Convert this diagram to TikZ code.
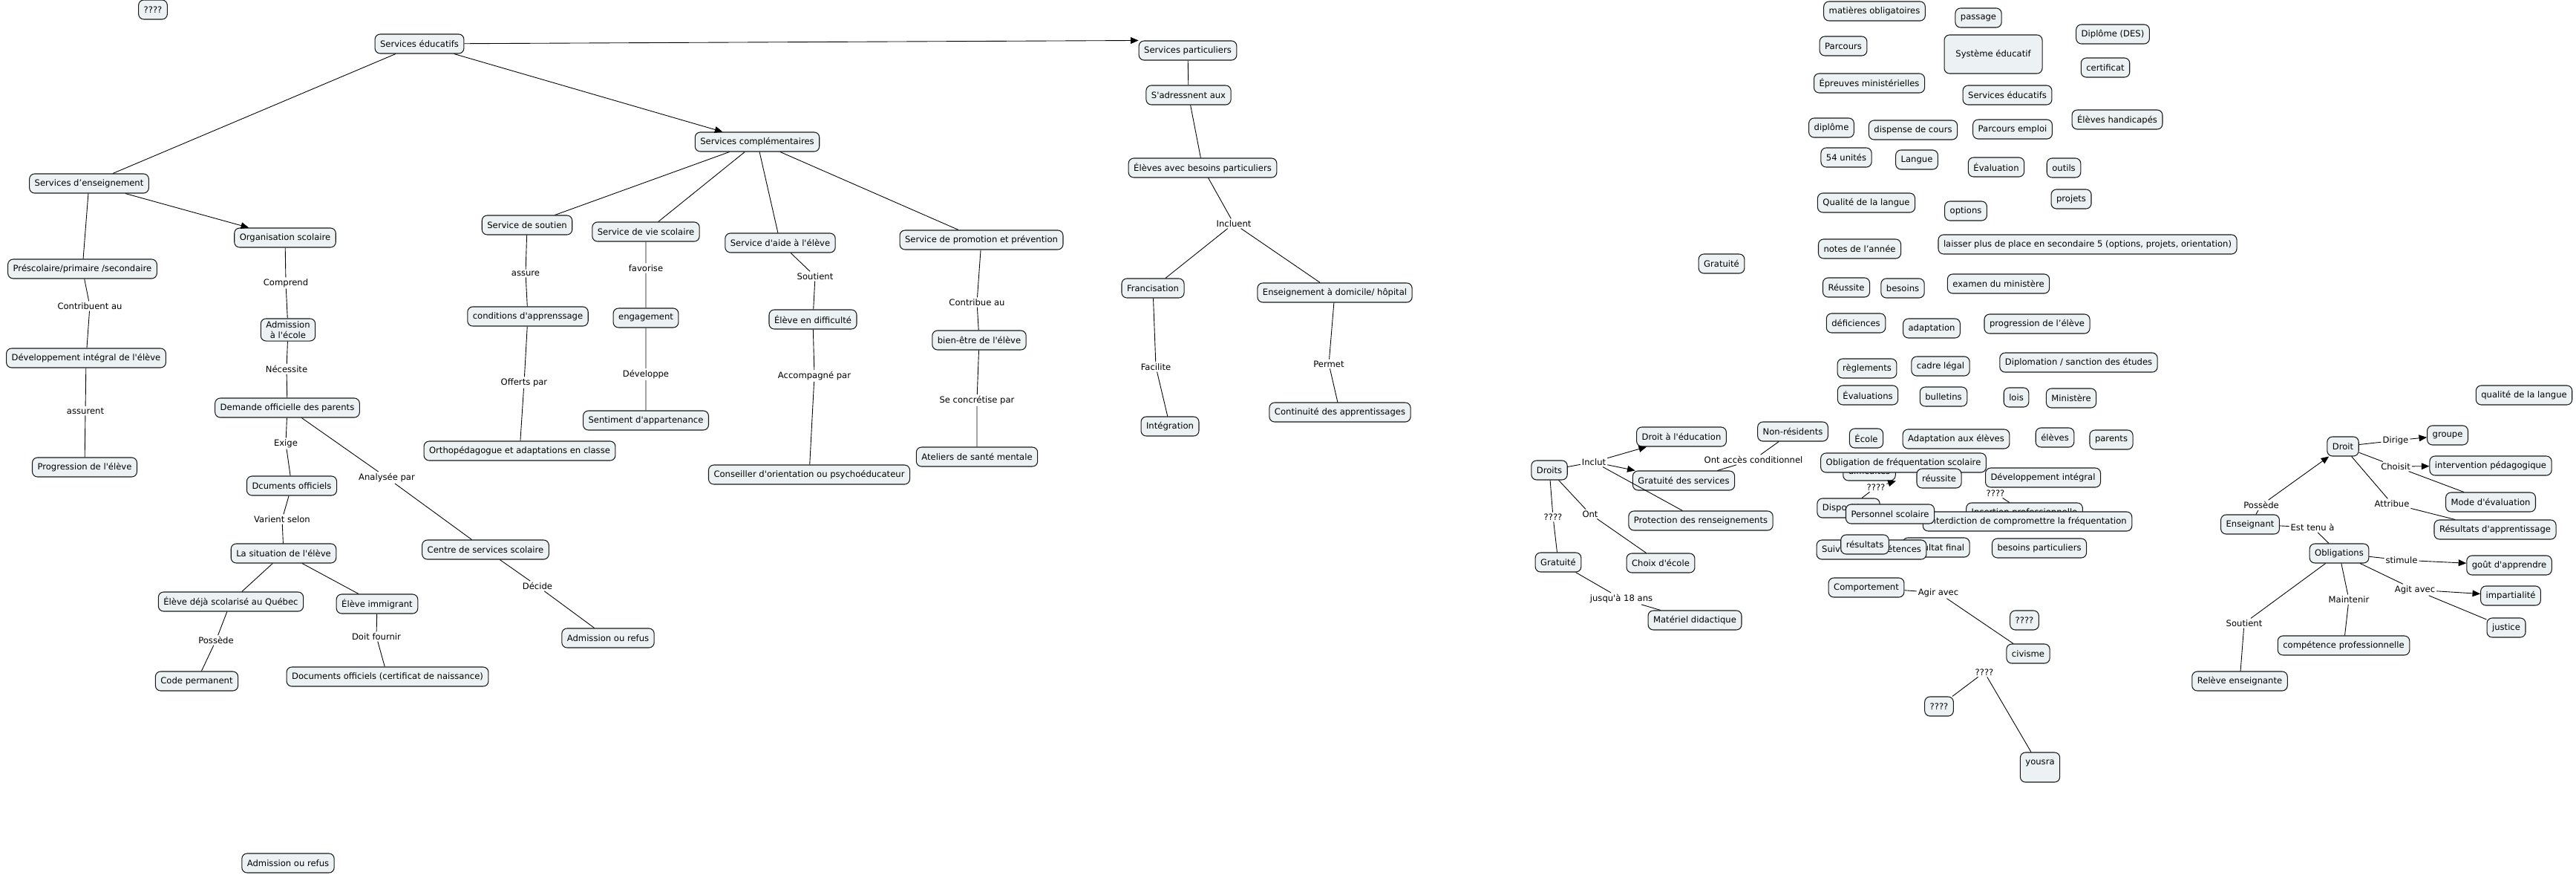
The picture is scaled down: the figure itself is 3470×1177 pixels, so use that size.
\documentclass[tikz,border=0pt]{standalone}
\usepackage{fontspec}
\newfontfamily\carte{DejaVu Sans}
\usepackage{xcolor}
\usetikzlibrary{arrows.meta}
\definecolor{boxfill}{RGB}{236,242,244}

\begin{document}
\begin{tikzpicture}[x=0.02cm,y=-0.02cm,
    concept/.style={draw=black!90,line width=0.6pt,rounded corners=4pt,fill=boxfill,
      inner xsep=4pt,inner ysep=2pt,minimum height=0.52cm,font=\carte\fontsize{6.6}{8}\selectfont},
    lien/.style={inner sep=1pt,font=\carte\fontsize{6.6}{8}\selectfont},
    fl/.style={-{Triangle[length=6pt,width=5pt]}},
    lk/.style={line width=0.5pt}]
    \useasboundingbox (0,0) rectangle (3470,1177);

    \node[concept] (q1) at (206,13) {????};
    \node[concept] (seduc) at (565,59) {Services éducatifs};
    \node[concept] (senseig) at (120,247) {Services d’enseignement};
    \node[concept] (orgsco) at (384,320) {Organisation scolaire};
    \node[concept] (prescol) at (111,362) {Préscolaire/primaire /secondaire};
    \node[lien] (comprend) at (385,381) {Comprend};
    \node[lien] (contrib) at (121,412) {Contribuent au};
    \node[concept,align=center] (admis) at (388,444) {Admission\\à l'école};
    \node[concept] (devint) at (116,482) {Développement intégral de l'élève};
    \node[lien] (necess) at (386,497) {Nécessite};
    \node[lien] (assurent) at (115,553) {assurent};
    \node[concept] (demande) at (387,549) {Demande officielle des parents};
    \node[lien] (exige) at (385,597) {Exige};
    \node[concept] (progr) at (114,629) {Progression de l'élève};
    \node[concept] (dcum) at (393,654) {Dcuments officiels};
    \node[lien] (analysee) at (521,643) {Analysée par};
    \node[lien] (varient) at (380,699) {Varient selon};
    \node[concept] (situation) at (382,745) {La situation de l'élève};
    \node[concept] (centre) at (654,740) {Centre de services scolaire};
    \node[lien] (decide) at (724,789) {Décide};
    \node[concept] (dejasco) at (311,810) {Élève déjà scolarisé au Québec};
    \node[concept] (immigr) at (508,813) {Élève immigrant};
    \node[concept] (admref) at (819,859) {Admission ou refus};
    \node[lien] (possede) at (291,862) {Possède};
    \node[lien] (doitf) at (507,857) {Doit fournir};
    \node[concept] (codeperm) at (265,917) {Code permanent};
    \node[concept] (docoff) at (522,911) {Documents officiels (certificat de naissance)};
    \node[concept] (admrefb) at (388,1162) {Admission ou refus};

    \node[concept] (scompl) at (1020,191) {Services complémentaires};
    \node[concept] (ssout) at (710,303) {Service de soutien};
    \node[concept] (svie) at (870,312) {Service de vie scolaire};
    \node[concept] (saide) at (1051,327) {Service d'aide à l'élève};
    \node[concept] (sprom) at (1322,323) {Service de promotion et prévention};
    \node[lien] (assure) at (708,368) {assure};
    \node[lien] (favorise) at (870,361) {favorise};
    \node[lien] (soutient) at (1098,372) {Soutient};
    \node[lien] (contribue) at (1316,407) {Contribue au};
    \node[concept] (condit) at (711,426) {conditions d'apprenssage};
    \node[concept] (engag) at (870,428) {engagement};
    \node[concept] (elevdiff) at (1095,430) {Élève en difficulté};
    \node[concept] (bienetre) at (1319,458) {bien-être de l'élève};
    \node[lien] (developpe) at (870,504) {Développe};
    \node[lien] (accomp) at (1097,506) {Accompagné par};
    \node[lien] (offerts) at (706,515) {Offerts par};
    \node[lien] (concret) at (1316,539) {Se concrétise par};
    \node[concept] (sentim) at (870,566) {Sentiment d'appartenance};
    \node[concept] (ortho) at (700,607) {Orthopédagogue et adaptations en classe};
    \node[concept] (ateliers) at (1316,615) {Ateliers de santé mentale};
    \node[concept] (conseil) at (1090,639) {Conseiller d'orientation ou psychoéducateur};

    \node[concept] (spart) at (1600,68) {Services particuliers};
    \node[concept] (sadress) at (1601,128) {S'adressnent aux};
    \node[concept] (elevbes) at (1620,226) {Élèves avec besoins particuliers};
    \node[lien] (incluent) at (1662,301) {Incluent};
    \node[concept] (francis) at (1553,388) {Francisation};
    \node[concept] (enseigdom) at (1798,394) {Enseignement à domicile/ hôpital};
    \node[lien] (permet) at (1790,490) {Permet};
    \node[lien] (facilite) at (1557,494) {Facilite};
    \node[concept] (contin) at (1805,555) {Continuité des apprentissages};
    \node[concept] (integr) at (1576,574) {Intégration};

    \node[concept] (gratuite2) at (2319,355) {Gratuité};
    \node[concept] (droits) at (2087,633) {Droits};
    \node[lien] (inclut) at (2147,622) {Inclut};
    \node[concept] (droitedu) at (2265,588) {Droit à l'éducation};
    \node[concept] (nonres) at (2415,581) {Non-résidents};
    \node[lien] (accescond) at (2362,619) {Ont accès conditionnel};
    \node[concept] (gratserv) at (2268,647) {Gratuité des services};
    \node[lien] (q2) at (2092,696) {????};
    \node[lien] (ont) at (2142,692) {Ont};
    \node[concept] (protec) at (2291,701) {Protection des renseignements};
    \node[concept] (gratuite) at (2099,757) {Gratuité};
    \node[concept] (choix) at (2237,758) {Choix d'école};
    \node[lien] (jusqua) at (2184,806) {jusqu'à 18 ans};
    \node[concept] (materiel) at (2283,835) {Matériel didactique};

    \node[concept] (matob) at (2525,15) {matières obligatoires};
    \node[concept] (passage) at (2665,24) {passage};
    \node[concept] (des) at (2846,46) {Diplôme (DES)};
    \node[concept] (parcours) at (2483,62) {Parcours};
    \node[concept,minimum width=2.64cm,minimum height=1.04cm] (systeme) at (2685,73) {Système éducatif};
    \node[concept] (certif) at (2836,91) {certificat};
    \node[concept] (epreuves) at (2518,112) {Épreuves ministérielles};
    \node[concept] (seduc2) at (2704,128) {Services éducatifs};
    \node[concept] (handic) at (2852,161) {Élèves handicapés};
    \node[concept] (diplome) at (2467,172) {diplôme};
    \node[concept] (dispense) at (2577,175) {dispense de cours};
    \node[concept] (pemploi) at (2711,174) {Parcours emploi};
    \node[concept] (unites) at (2487,212) {54 unités};
    \node[concept] (langue) at (2582,215) {Langue};
    \node[concept] (evaluation) at (2689,225) {Évaluation};
    \node[concept] (outils) at (2780,226) {outils};
    \node[concept] (projets) at (2790,268) {projets};
    \node[concept] (qualite) at (2514,273) {Qualité de la langue};
    \node[concept] (options) at (2648,284) {options};
    \node[concept] (notes) at (2505,335) {notes de l’année};
    \node[concept] (laisser) at (2812,329) {laisser plus de place en secondaire 5 (options, projets, orientation)};
    \node[concept] (reussite) at (2487,387) {Réussite};
    \node[concept] (besoins) at (2563,388) {besoins};
    \node[concept] (examen) at (2692,382) {examen du ministère};
    \node[concept] (deficiences) at (2500,435) {déficiences};
    \node[concept] (adaptation) at (2602,442) {adaptation};
    \node[concept] (progr2) at (2744,436) {progression de l’élève};
    \node[concept] (reglements) at (2515,496) {règlements};
    \node[concept] (cadre) at (2614,493) {cadre légal};
    \node[concept] (diplomation) at (2800,488) {Diplomation / sanction des études};
    \node[concept] (evaluations) at (2516,532) {Évaluations};
    \node[concept] (bulletins) at (2618,534) {bulletins};
    \node[concept] (lois) at (2716,535) {lois};
    \node[concept] (ministere) at (2790,536) {Ministère};
    \node[concept] (ecole) at (2514,590) {École};
    \node[concept] (adapteleves) at (2635,591) {Adaptation aux élèves};
    \node[concept] (eleves) at (2768,589) {élèves};
    \node[concept] (parents) at (2844,592) {parents};

    \node[concept] (diffic) at (2518,634) {difficultés};
    \node[concept] (oblig) at (2564,623) {Obligation de fréquentation scolaire};
    \node[concept] (reussite2) at (2612,644) {réussite};
    \node[concept] (devint2) at (2752,643) {Développement intégral};
    \node[lien] (q3) at (2527,656) {????};
    \node[lien] (q4) at (2688,664) {????};
    \node[concept] (dispo) at (2490,684) {Dispositions};
    \node[concept] (insert) at (2727,690) {Insertion professionnelle};
    \node[concept] (interd) at (2731,702) {Interdiction de compromettre la fréquentation};
    \node[concept] (personnel) at (2546,692) {Personnel scolaire};
    \node[concept] (resfinal) at (2608,737) {Résultat final};
    \node[concept] (suivi) at (2521,740) {Suivi des compétences};
    \node[concept] (resultats) at (2512,733) {résultats};
    \node[concept] (besoinsp) at (2747,738) {besoins particuliers};
    \node[concept] (comport) at (2514,791) {Comportement};
    \node[lien] (agir) at (2611,798) {Agir avec};
    \node[concept] (q5) at (2727,835) {????};
    \node[concept] (civisme) at (2732,880) {civisme};
    \node[lien] (q6) at (2673,905) {????};
    \node[concept] (q7) at (2612,951) {????};
    \node[concept,align=center,minimum height=0.8cm] (yousra) at (2748,1033) {yousra\\~};

    \node[concept] (qualite2) at (3400,532) {qualité de la langue};
    \node[concept] (droit) at (3156,601) {Droit};
    \node[lien] (dirige) at (3227,593) {Dirige};
    \node[concept] (groupe) at (3297,586) {groupe};
    \node[lien] (choisit) at (3227,628) {Choisit};
    \node[concept] (interv) at (3355,627) {intervention pédagogique};
    \node[lien] (attribue) at (3222,678) {Attribue};
    \node[concept] (mode) at (3355,676) {Mode d'évaluation};
    \node[lien] (possede2) at (3046,680) {Possède};
    \node[concept] (enseignant) at (3031,706) {Enseignant};
    \node[lien] (esttenu) at (3115,710) {Est tenu à};
    \node[concept] (result) at (3361,713) {Résultats d'apprentissage};
    \node[concept] (obligations) at (3151,745) {Obligations};
    \node[lien] (stimule) at (3235,754) {stimule};
    \node[concept] (gout) at (3380,761) {goût d'apprendre};
    \node[lien] (agit) at (3253,794) {Agit avec};
    \node[concept] (impart) at (3382,802) {impartialité};
    \node[lien] (maintenir) at (3164,807) {Maintenir};
    \node[lien] (soutient2) at (3023,839) {Soutient};
    \node[concept] (justice) at (3376,845) {justice};
    \node[concept] (compet) at (3157,869) {compétence professionnelle};
    \node[concept] (releve) at (3017,917) {Relève enseignante};

    \begin{scope}[lk]
    \draw (seduc) -- (senseig);
    \draw[fl] (seduc) -- (scompl);
    \draw[fl] (seduc) -- (spart.north west);
    \draw[fl] (senseig) -- (orgsco);
    \draw (senseig) -- (prescol) -- (contrib) -- (devint) -- (assurent) -- (progr);
    \draw (orgsco) -- (comprend) -- (admis) -- (necess) -- (demande) -- (exige) -- (dcum) -- (varient) -- (situation);
    \draw (demande) -- (analysee) -- (centre) -- (decide) -- (admref);
    \draw (situation) -- (dejasco) -- (possede) -- (codeperm);
    \draw (situation) -- (immigr) -- (doitf) -- (docoff);

    \draw (scompl) -- (ssout) -- (assure) -- (condit) -- (offerts) -- (ortho);
    \draw (scompl) -- (svie) -- (favorise) -- (engag) -- (developpe) -- (sentim);
    \draw (scompl) -- (saide) -- (soutient) -- (elevdiff) -- (accomp) -- (conseil);
    \draw (scompl) -- (sprom) -- (contribue) -- (bienetre) -- (concret) -- (ateliers);
    \draw (spart) -- (sadress) -- (elevbes) -- (incluent) -- (francis) -- (facilite) -- (integr);
    \draw (incluent) -- (enseigdom) -- (permet) -- (contin);

    \draw (droits) -- (inclut);
    \draw[fl] (inclut) -- (droitedu);
    \draw[fl] (inclut) -- (gratserv);
    \draw (inclut) -- (protec);
    \draw (droits) -- (q2) -- (gratuite) -- (jusqua) -- (materiel);
    \draw (droits) -- (ont) -- (choix);
    \draw (gratserv) -- (accescond) -- (nonres);

    \draw[fl] (q3) -- (diffic.south east);
    \draw (q3) -- (dispo);
    \draw (q4) -- (insert);
    \draw (comport) -- (agir) -- (civisme);
    \draw (q6) -- (q7);
    \draw (q6) -- (yousra);

    \draw (enseignant) -- (possede2);
    \draw[fl] (possede2) -- (droit);
    \draw (enseignant) -- (esttenu) -- (obligations);
    \draw (droit) -- (dirige);
    \draw[fl] (dirige) -- (groupe);
    \draw (droit) -- (choisit);
    \draw[fl] (choisit) -- (interv);
    \draw (choisit) -- (mode);
    \draw (droit) -- (attribue) -- (result);
    \draw (obligations) -- (stimule);
    \draw[fl] (stimule) -- (gout);
    \draw (obligations) -- (agit);
    \draw[fl] (agit) -- (impart);
    \draw (agit) -- (justice);
    \draw (obligations) -- (maintenir) -- (compet);
    \draw (obligations) -- (soutient2) -- (releve);
    \end{scope}
\end{tikzpicture}
\end{document}
